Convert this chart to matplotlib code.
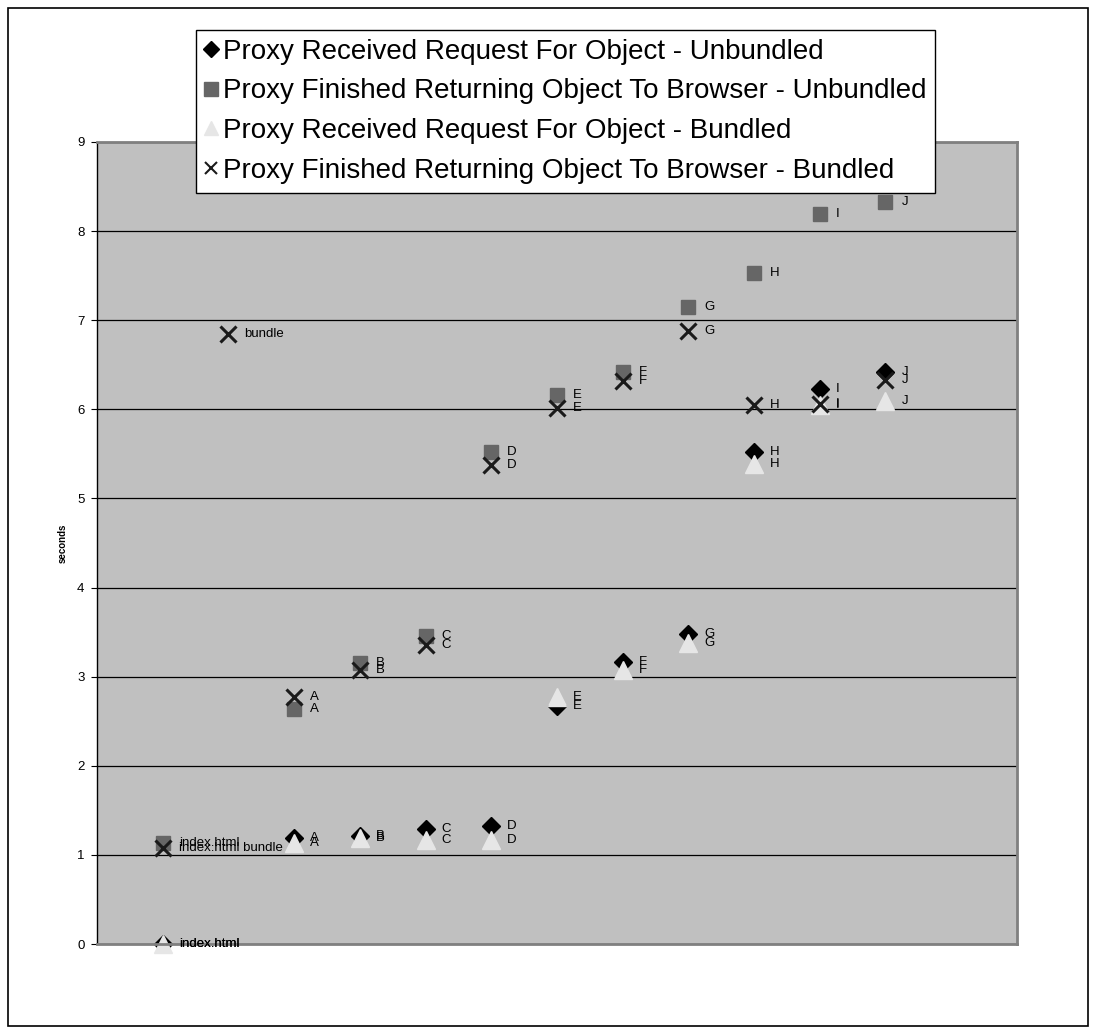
import matplotlib
matplotlib.use("Agg")
import matplotlib.pyplot as plt
from matplotlib.patches import Rectangle

plt.rcParams['font.family'] = ['Liberation Sans', 'DejaVu Sans']

# x positions of each requested object along the page load
recvUnbundledX = [1, 3, 4, 5, 6, 7, 8, 9, 10, 11, 12]
recvUnbundledY = [0.0, 1.19, 1.21, 1.29, 1.32, 2.67, 3.16, 3.48, 5.52, 6.23, 6.42]
recvUnbundledLbl = ['index.html', 'A', 'B', 'C', 'D', 'E', 'F', 'G', 'H', 'I', 'J']

doneUnbundledX = [1, 3, 4, 5, 6, 7, 8, 9, 10, 11, 12]
doneUnbundledY = [1.13, 2.64, 3.15, 3.46, 5.52, 6.16, 6.42, 7.15, 7.53, 8.19, 8.33]
doneUnbundledLbl = ['index.html', 'A', 'B', 'C', 'D', 'E', 'F', 'G', 'H', 'I', 'J']

recvBundledX = [1, 3, 4, 5, 6, 7, 8, 9, 10, 11, 12]
recvBundledY = [0.0, 1.13, 1.19, 1.17, 1.17, 2.77, 3.08, 3.38, 5.39, 6.05, 6.09]
recvBundledLbl = ['index.html', 'A', 'B', 'C', 'D', 'E', 'F', 'G', 'H', 'I', 'J']

doneBundledX = [1, 2, 3, 4, 5, 6, 7, 8, 9, 10, 11, 12]
doneBundledY = [1.08, 6.85, 2.77, 3.08, 3.36, 5.38, 6.02, 6.32, 6.88, 6.05, 6.06, 6.33]
doneBundledLbl = ['index.html bundle', 'bundle', 'A', 'B', 'C', 'D', 'E', 'F', 'G', 'H', 'I', 'J']

yTicks = [0, 1, 2, 3, 4, 5, 6, 7, 8, 9]

fig = plt.figure(figsize=(10.97, 10.34), dpi=100)
ax = fig.add_axes([0.0884, 0.087, 0.8386, 0.7757])
ax.set_facecolor('#c0c0c0')

series = [
    (recvUnbundledX, recvUnbundledY, recvUnbundledLbl, 'D', '#000000', 9.5, 1, 'Proxy Received Request For Object - Unbundled'),
    (doneUnbundledX, doneUnbundledY, doneUnbundledLbl, 's', '#666666', 10.5, 1, 'Proxy Finished Returning Object To Browser - Unbundled'),
    (recvBundledX, recvBundledY, recvBundledLbl, '^', '#e6e6e6', 12.5, 1, 'Proxy Received Request For Object - Bundled'),
    (doneBundledX, doneBundledY, doneBundledLbl, 'x', '#1a1a1a', 12, 2.2, 'Proxy Finished Returning Object To Browser - Bundled'),
]

handles = []
for xs, ys, lbls, mk, col, ms, mew, name in series:
    h, = ax.plot(xs, ys, linestyle='none', marker=mk, color=col, markeredgecolor=col,
                 markersize=ms, markeredgewidth=mew, label=name, clip_on=False)
    handles.append(h)
    for x, y, t in zip(xs, ys, lbls):
        ax.annotate(t, (x, y), xytext=(11.5, 0), textcoords='offset points',
                    ha='left', va='center', fontsize=9.5, annotation_clip=False)

ax.set_xlim(0, 14)
ax.set_ylim(0, 9)
ax.set_yticks(yTicks)
ax.set_xticks([])
ax.yaxis.grid(True, color='black', linewidth=0.9)
ax.set_axisbelow(True)
ax.tick_params(axis='y', direction='out', length=4, labelsize=9.5, pad=5)
ax.set_ylabel('seconds', fontsize=7, fontweight='bold', labelpad=7)

for side in ['top', 'right', 'bottom']:
    ax.spines[side].set_color('#808080')
    ax.spines[side].set_linewidth(2)
ax.spines['left'].set_color('black')
ax.spines['left'].set_linewidth(1)

leg = fig.legend(handles=handles, loc='upper left', bbox_to_anchor=(0.1787, 0.971),
                 fontsize=20, frameon=True, fancybox=False, edgecolor='black',
                 framealpha=1, handlelength=0.45, handletextpad=0.2,
                 borderpad=0.32, labelspacing=0.49, borderaxespad=0)
leg.get_frame().set_linewidth(1)
legSizes = [8, 10, 10, 9]
for lh, s in zip(leg.legend_handles, legSizes):
    lh.set_markersize(s)
    lh.set_markeredgewidth(1.5 if s == 9 else 1)

# outer frame around the whole chart
fig.patches.append(Rectangle((0.0073, 0.0077), 0.9845, 0.9845, transform=fig.transFigure,
                             fill=False, edgecolor='black', linewidth=1.2))

fig.savefig('out.png', dpi=100)
